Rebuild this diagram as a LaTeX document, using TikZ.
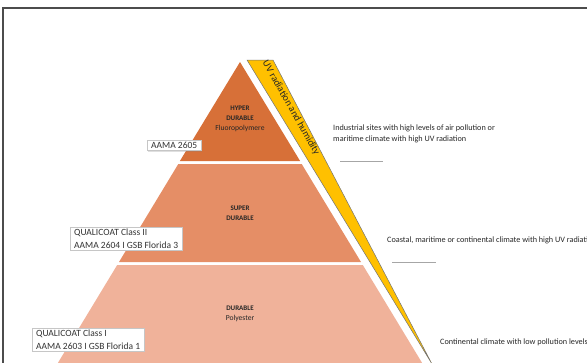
\documentclass[tikz,border=0pt]{standalone}
\usepackage{fontspec}
\setmainfont{Carlito}
\usepackage{tikz}
\usepackage{xcolor}
\usetikzlibrary{positioning,shadows}
\definecolor{hyper}{RGB}{215,112,56}
\definecolor{super}{RGB}{229,142,102}
\definecolor{durable}{RGB}{240,178,154}
\definecolor{uvband}{RGB}{255,192,0}
\tikzset{
    bandtext/.style={align=center, font=\fontsize{7}{10}\selectfont, text=black!85},
    normbox/.style={draw=gray!45, fill=white, align=left, anchor=north west, inner xsep=4pt, inner ysep=2pt,
        font=\fontsize{9.5}{12.5}\selectfont, text=black!80,
        drop shadow={opacity=0.25, shadow xshift=1pt, shadow yshift=-1pt}},
    climate/.style={align=left, anchor=west, inner sep=0pt, font=\fontsize{8.2}{10.5}\selectfont, text=black!85},
    rule/.style={draw=gray!70, line width=0.6pt}
}

\begin{document}
\begin{tikzpicture}[x=1pt, y=-1pt]
    \useasboundingbox (0,0) rectangle (587,362);
    \clip (0,0) rectangle (587,362);
    % frame
    \draw[black!70, line width=1.3pt] (3,370) -- (3,8) -- (600,8);
    % pyramid
    \fill[hyper]   (240,62) -- (300.1,161) -- (179.9,161) -- cycle;
    \fill[super]   (178.3,164) -- (301.7,164) -- (361.0,262) -- (119.0,262) -- cycle;
    \fill[durable] (117.2,265) -- (362.8,265) -- (427.6,372) -- (52.4,372) -- cycle;
    % UV strip
    \filldraw[fill=uvband, draw=black!55, line width=0.5pt]
        (247,60) -- (273,60) -- (432,364) -- cycle;
    \node[rotate=-60.5, inner sep=0pt, font=\fontsize{10}{11}\selectfont, text=black!85] (uv) at (291,108) {UV radiation and humidity};
    % band texts
    \node[bandtext] (hyp) at (240,119) {\textbf{HYPER}\\\textbf{DURABLE}\\{\fontsize{7.6}{11}\selectfont Fluoropolymere}};
    \node[bandtext] (sup) at (240,213) {\textbf{SUPER}\\\textbf{DURABLE}};
    \node[bandtext] (dur) at (240,314) {\textbf{DURABLE}\\{\fontsize{7.6}{11}\selectfont Polyester}};
    % norms
    \node[normbox] (n1) at (147,140) {AAMA 2605};
    \node[normbox] (n2) at (70,227) {QUALICOAT Class II\\AAMA 2604 I GSB Florida 3};
    \node[normbox] (n3) at (32,328) {QUALICOAT Class I\\AAMA 2603 I GSB Florida 1};
    % climates
    \node[climate] (c1) at (333,134) {Industrial sites with high levels of air pollution or\\maritime climate with high UV radiation};
    \draw[rule] (340,161) -- (383,161);
    \node[climate] (c2) at (387,240) {Coastal, maritime or continental climate with high UV radiation};
    \draw[rule] (392,262) -- (436,262);
    \node[climate] (c3) at (440,342) {Continental climate with low pollution levels};
\end{tikzpicture}
\end{document}
